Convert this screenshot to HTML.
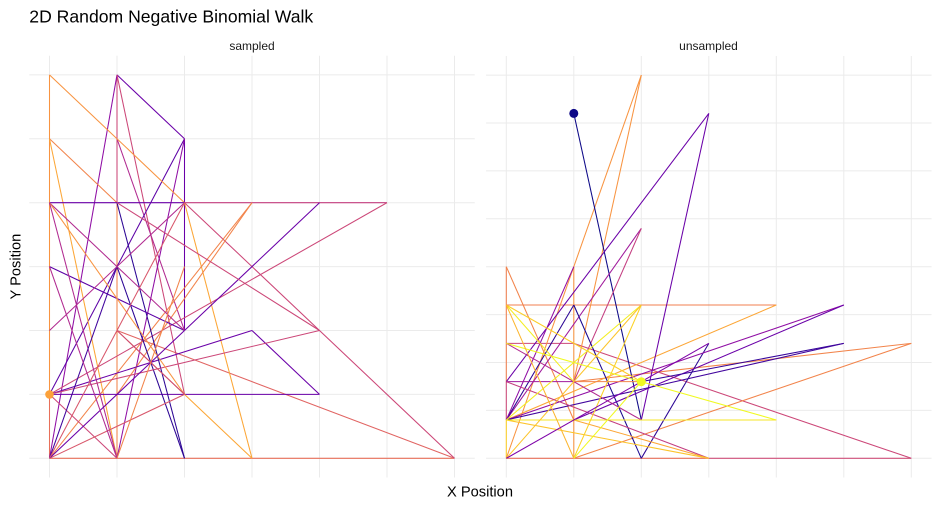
<!DOCTYPE html>
<html><head><meta charset="utf-8">
<style>
html,body{margin:0;padding:0;background:#fff;}
svg{display:block;}
line{vector-effect:non-scaling-stroke;stroke-width:1.05;stroke-linecap:butt;}
.g line{stroke:#ebebeb;stroke-width:1;}
text{font-family:"Liberation Sans",Arial,sans-serif;}
</style></head>
<body>
<svg width="939" height="507" viewBox="0 0 939 507" xmlns="http://www.w3.org/2000/svg">
<rect width="939" height="507" fill="#fff"/>
<text x="29.3" y="22.7" font-size="17.6" fill="#000">2D Random Negative Binomial Walk</text>
<text x="252" y="50" font-size="12" fill="#1a1a1a" text-anchor="middle">sampled</text>
<text x="708.5" y="50" font-size="12" fill="#1a1a1a" text-anchor="middle">unsampled</text>
<text x="480" y="496.7" font-size="14.67" fill="#000" text-anchor="middle">X Position</text>
<text transform="translate(20.7,266.6) rotate(-90)" font-size="14.67" fill="#000" text-anchor="middle">Y Position</text>

<!-- LEFT PANEL -->
<g transform="translate(49.5,458.3) scale(67.5,-63.9)">
<g class="g">
<line x1="-0.3" y1="0" x2="6.3" y2="0"/><line x1="-0.3" y1="1" x2="6.3" y2="1"/><line x1="-0.3" y1="2" x2="6.3" y2="2"/><line x1="-0.3" y1="3" x2="6.3" y2="3"/><line x1="-0.3" y1="4" x2="6.3" y2="4"/><line x1="-0.3" y1="5" x2="6.3" y2="5"/><line x1="-0.3" y1="6" x2="6.3" y2="6"/>
<line x1="0" y1="-0.3" x2="0" y2="6.3"/><line x1="1" y1="-0.3" x2="1" y2="6.3"/><line x1="2" y1="-0.3" x2="2" y2="6.3"/><line x1="3" y1="-0.3" x2="3" y2="6.3"/><line x1="4" y1="-0.3" x2="4" y2="6.3"/><line x1="5" y1="-0.3" x2="5" y2="6.3"/><line x1="6" y1="-0.3" x2="6" y2="6.3"/>
</g>
<line x1="0" y1="0" x2="6" y2="0" stroke="#e8705a"/>
<line x1="1" y1="2" x2="6" y2="0" stroke="#e16462"/>
<line x1="2" y1="4" x2="6" y2="0" stroke="#cc4778"/>
<line x1="0" y1="6" x2="0" y2="1" stroke="#f89441"/>
<line x1="0" y1="1" x2="0" y2="0" stroke="#e8705a"/>
<line x1="1" y1="6" x2="1" y2="4" stroke="#cc4778"/>
<line x1="1" y1="4" x2="1" y2="0" stroke="#f2844b"/>
<line x1="1" y1="6" x2="2" y2="5" stroke="#6a00a8"/>
<line x1="2" y1="5" x2="2" y2="2" stroke="#6a00a8"/>
<line x1="0" y1="0" x2="1" y2="6" stroke="#8f0da4"/>
<line x1="1" y1="6" x2="2" y2="1" stroke="#cc4778"/>
<line x1="1" y1="5" x2="2" y2="2" stroke="#b12a90"/>
<line x1="2" y1="5" x2="0" y2="1" stroke="#5c01a6"/>
<line x1="2" y1="5" x2="1" y2="0" stroke="#8f0da4"/>
<line x1="0" y1="6" x2="2" y2="4" stroke="#f89441"/>
<line x1="2" y1="4" x2="3" y2="0" stroke="#fca636"/>
<line x1="0" y1="5" x2="1" y2="4" stroke="#f2844b"/>
<line x1="0" y1="5" x2="1" y2="0" stroke="#fca636"/>
<line x1="0" y1="4" x2="2" y2="4" stroke="#6a00a8"/>
<line x1="2" y1="4" x2="5" y2="4" stroke="#c43e7f"/>
<line x1="5" y1="4" x2="0" y2="1" stroke="#cc4778"/>
<line x1="4" y1="4" x2="2" y2="2" stroke="#6a00a8"/>
<line x1="3" y1="4" x2="0" y2="0" stroke="#f2844b"/>
<line x1="3" y1="4" x2="1" y2="1" stroke="#f2844b"/>
<line x1="0" y1="1" x2="3" y2="2" stroke="#6a00a8"/>
<line x1="3" y1="2" x2="4" y2="1" stroke="#6a00a8"/>
<line x1="0" y1="1" x2="4" y2="1" stroke="#6a00a8"/>
<line x1="1" y1="4" x2="2" y2="0" stroke="#2c0594"/>
<line x1="1" y1="3" x2="2" y2="0" stroke="#2c0594"/>
<line x1="0" y1="3" x2="2" y2="2" stroke="#5c01a6"/>
<line x1="0" y1="4" x2="1" y2="3" stroke="#b12a90"/>
<line x1="1" y1="3" x2="2" y2="2" stroke="#b12a90"/>
<line x1="0" y1="1" x2="4" y2="2" stroke="#cc4778"/>
<line x1="1" y1="2" x2="3" y2="0" stroke="#fca636"/>
<line x1="0" y1="4" x2="2" y2="1" stroke="#f89441"/>
<line x1="0" y1="4" x2="1" y2="0" stroke="#b12a90"/>
<line x1="0" y1="1" x2="1" y2="0" stroke="#cc4778"/>
<line x1="0" y1="0" x2="1" y2="3" stroke="#41049d"/>
<line x1="0" y1="0" x2="2" y2="1" stroke="#d8576b"/>
<line x1="0" y1="0" x2="2" y2="2" stroke="#6a00a8"/>
<line x1="0" y1="3" x2="1" y2="0" stroke="#b12a90"/>
<line x1="1" y1="2" x2="2" y2="1" stroke="#cc4778"/>
<line x1="1" y1="4" x2="4" y2="2" stroke="#cc4778"/>
<line x1="0" y1="2" x2="2" y2="4" stroke="#b12a90"/>
<line x1="0" y1="0" x2="2" y2="4" stroke="#d8576b"/>
<line x1="1" y1="0" x2="2" y2="3" stroke="#f2844b"/>
</g>
<circle cx="49.5" cy="394.4" r="4.3" fill="#fca13a"/>

<!-- RIGHT PANEL -->
<g transform="translate(506.3,458.3) scale(67.5,-38.32)">
<g class="g">
<line x1="-0.3" y1="0" x2="6.3" y2="0"/><line x1="-0.3" y1="1.25" x2="6.3" y2="1.25"/><line x1="-0.3" y1="2.5" x2="6.3" y2="2.5"/><line x1="-0.3" y1="3.75" x2="6.3" y2="3.75"/><line x1="-0.3" y1="5" x2="6.3" y2="5"/><line x1="-0.3" y1="6.25" x2="6.3" y2="6.25"/><line x1="-0.3" y1="7.5" x2="6.3" y2="7.5"/><line x1="-0.3" y1="8.75" x2="6.3" y2="8.75"/><line x1="-0.3" y1="10" x2="6.3" y2="10"/>
<line x1="0" y1="-0.5" x2="0" y2="10.5"/><line x1="1" y1="-0.5" x2="1" y2="10.5"/><line x1="2" y1="-0.5" x2="2" y2="10.5"/><line x1="3" y1="-0.5" x2="3" y2="10.5"/><line x1="4" y1="-0.5" x2="4" y2="10.5"/><line x1="5" y1="-0.5" x2="5" y2="10.5"/><line x1="6" y1="-0.5" x2="6" y2="10.5"/>
</g>
<line x1="0" y1="0" x2="3" y2="0" stroke="#e8705a"/>
<line x1="3" y1="0" x2="6" y2="0" stroke="#d0507a"/>
<line x1="1" y1="3" x2="6" y2="0" stroke="#cc4778"/>
<line x1="0" y1="3" x2="1" y2="3" stroke="#cc4778"/>
<line x1="6" y1="3" x2="1" y2="2" stroke="#f2844b"/>
<line x1="6" y1="3" x2="1" y2="0" stroke="#f2844b"/>
<line x1="0" y1="4" x2="4" y2="4" stroke="#f07f4f"/>
<line x1="4" y1="4" x2="0" y2="1" stroke="#fca636"/>
<line x1="0" y1="5" x2="0" y2="2" stroke="#f07f4f"/>
<line x1="0" y1="2" x2="0" y2="1" stroke="#cc4778"/>
<line x1="0" y1="1" x2="0" y2="0" stroke="#fcce25"/>
<line x1="1" y1="5" x2="1" y2="0" stroke="#f89441"/>
<line x1="0" y1="5" x2="1" y2="1" stroke="#f2844b"/>
<line x1="2" y1="10" x2="0" y2="0" stroke="#f89441"/>
<line x1="2" y1="10" x2="1" y2="2" stroke="#f89441"/>
<line x1="1" y1="9" x2="2" y2="1" stroke="#0d0887"/>
<line x1="2" y1="1" x2="3" y2="9" stroke="#6a00a8"/>
<line x1="3" y1="9" x2="0" y2="2" stroke="#6a00a8"/>
<line x1="2" y1="6" x2="0" y2="1" stroke="#a01a9c"/>
<line x1="2" y1="6" x2="1" y2="2" stroke="#c33d80"/>
<line x1="1" y1="4" x2="2" y2="0" stroke="#1a068f"/>
<line x1="2" y1="0" x2="3" y2="3" stroke="#2c0594"/>
<line x1="0" y1="1" x2="1" y2="4" stroke="#2c0594"/>
<line x1="5" y1="4" x2="0" y2="1" stroke="#8f0da4"/>
<line x1="5" y1="4" x2="1" y2="1" stroke="#6a00a8"/>
<line x1="5" y1="3" x2="2" y2="2" stroke="#35049a"/>
<line x1="5" y1="3" x2="0" y2="1" stroke="#41049d"/>
<line x1="0" y1="1" x2="1" y2="5" stroke="#8f0da4"/>
<line x1="0" y1="2" x2="1" y2="2" stroke="#a01a9c"/>
<line x1="1" y1="2" x2="2" y2="2" stroke="#f2844b"/>
<line x1="0" y1="3" x2="2" y2="1" stroke="#b12a90"/>
<line x1="0" y1="2" x2="3" y2="0" stroke="#c33d80"/>
<line x1="1" y1="1" x2="3" y2="0" stroke="#fca636"/>
<line x1="0" y1="1" x2="3" y2="0" stroke="#fcc42a"/>
<line x1="0" y1="3" x2="4" y2="1" stroke="#f0f921"/>
<line x1="0" y1="1" x2="4" y2="1" stroke="#f5e626"/>
<line x1="0" y1="4" x2="1" y2="2" stroke="#f3ee22"/>
<line x1="0" y1="4" x2="2" y2="2" stroke="#fcce25"/>
<line x1="2" y1="4" x2="0" y2="1" stroke="#f3ee22"/>
<line x1="2" y1="4" x2="1" y2="0" stroke="#fcd225"/>
<line x1="0" y1="4" x2="1" y2="0" stroke="#fcb52e"/>
<line x1="0" y1="0" x2="2" y2="4" stroke="#fcc42a"/>
<line x1="1" y1="0" x2="2" y2="2" stroke="#f0f921"/>
<line x1="0" y1="0" x2="3" y2="3" stroke="#7e03a8"/>
</g>
<circle cx="573.8" cy="113.4" r="4.5" fill="#0d0887"/>
<circle cx="641.3" cy="381.7" r="4.5" fill="#f0f921"/>
</svg>
</body></html>
